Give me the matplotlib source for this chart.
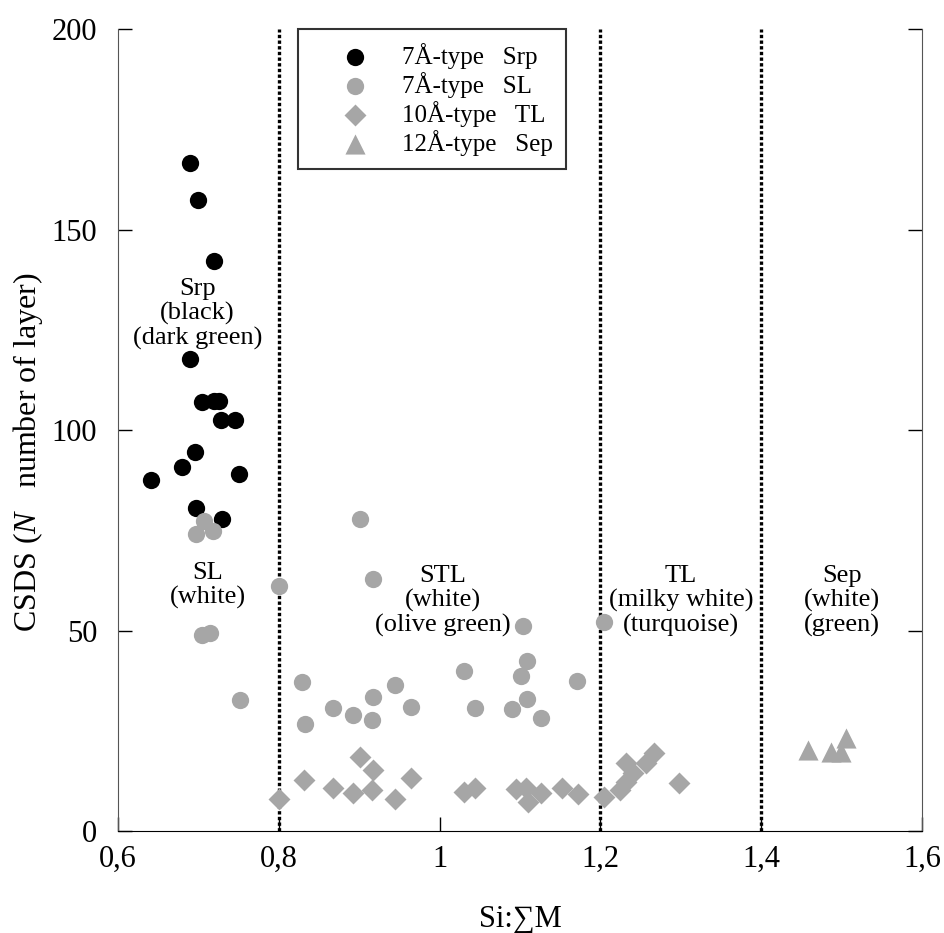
import numpy as np
import matplotlib
matplotlib.use("Agg")
import matplotlib.pyplot as plt

plt.rcParams['font.family'] = ['Liberation Serif', 'DejaVu Serif']
plt.rcParams['mathtext.fontset'] = 'custom'
plt.rcParams['mathtext.rm'] = 'Liberation Serif'
plt.rcParams['mathtext.it'] = 'Liberation Serif:italic'

# 7A-type serpentine (black circles)
srp_x = [0.689, 0.699, 0.719, 0.689, 0.704, 0.720, 0.726, 0.728, 0.745,
         0.696, 0.679, 0.641, 0.751, 0.697, 0.729]
srp_y = [166.5, 157.3, 142.1, 117.6, 106.9, 107.2, 107.2, 102.4, 102.4,
         94.5, 90.8, 87.5, 89.1, 80.5, 77.9]

# 7A-type SL (grey circles)
sl_x = [0.707, 0.697, 0.718, 0.901, 0.800, 0.917, 1.104, 1.205, 0.704, 0.714,
        1.109, 1.030, 1.101, 1.171, 0.829, 0.944, 0.752, 0.917, 1.109, 0.868,
        0.965, 1.044, 1.090, 0.892, 0.916, 1.126, 0.832]
sl_y = [77.4, 74.0, 74.8, 77.9, 61.0, 62.9, 51.2, 52.2, 48.8, 49.3,
        42.3, 39.9, 38.7, 37.3, 37.1, 36.3, 32.6, 33.4, 33.0, 30.8,
        30.9, 30.7, 30.4, 29.0, 27.7, 28.3, 26.6]

# 10A-type TL (grey diamonds)
tl_x = [0.901, 0.917, 0.831, 0.964, 0.868, 0.916, 0.892, 0.944, 0.800, 1.030,
        1.044, 1.095, 1.108, 1.110, 1.126, 1.152, 1.172, 1.205, 1.224, 1.232,
        1.240, 1.232, 1.257, 1.267, 1.298]
tl_y = [18.5, 15.2, 12.7, 13.1, 10.8, 10.2, 9.4, 8.1, 7.9, 9.8,
        10.8, 10.6, 10.8, 7.3, 9.4, 10.8, 9.2, 8.6, 10.2, 12.3,
        14.5, 16.9, 16.9, 19.4, 11.9]

# 12A-type Sep (grey triangles)
sep_x = [1.458, 1.487, 1.499, 1.505]
sep_y = [20.2, 19.8, 19.8, 23.1]

boundaries = [0.8, 1.2, 1.4]
xticks = [0.6, 0.8, 1.0, 1.2, 1.4, 1.6]
xticklabels = ['0,6', '0,8', '1', '1,2', '1,4', '1,6']
yticks = [0, 50, 100, 150, 200]

field_labels = ["Srp\n(black)\n(dark green)", "SL\n(white)",
                "STL\n(white)\n(olive green)", "TL\n(milky white)\n(turquoise)",
                "Sep\n(white)\n(green)"]
field_x = [0.699, 0.712, 1.004, 1.300, 1.500]
field_y = [129, 61.2, 57.4, 57.4, 57.4]

grey = '#a6a6a6'

fig = plt.figure(figsize=(9.44, 9.33), dpi=100)
ax = fig.add_axes([0.125, 0.1093, 0.8517, 0.8596])

for b in boundaries:
    ax.axvline(b, color='black', linestyle=(0, (1.0, 0.7)), linewidth=2.4, zorder=1)

ax.scatter(srp_x, srp_y, s=155, c='black', marker='o', linewidths=0,
           label='7Å-type   Srp', zorder=3)
ax.scatter(sl_x, sl_y, s=155, c=grey, marker='o', linewidths=0,
           label='7Å-type   SL', zorder=3)
ax.scatter(tl_x, tl_y, s=125, c=grey, marker='D', linewidths=0,
           label='10Å-type   TL', zorder=3)
ax.scatter(sep_x, sep_y, s=210, c=grey, marker='^', linewidths=0,
           label='12Å-type   Sep', zorder=3)

for t, x, y in zip(field_labels, field_x, field_y):
    ax.text(x, y, t, ha='center', va='center', fontsize=19, linespacing=1.1,
            zorder=2)

ax.set_xlim(0.6, 1.6)
ax.set_ylim(0, 200)
ax.set_xticks(xticks)
ax.set_xticklabels(xticklabels)
ax.set_yticks(yticks)
ax.tick_params(axis='both', direction='in', labelsize=22, length=10, width=1)
ax.tick_params(axis='y', right=True, pad=15)
ax.tick_params(axis='x', pad=10)

ax.spines['top'].set_visible(False)
ax.spines['left'].set_color('#555555')
ax.spines['right'].set_color('#555555')
ax.spines['bottom'].set_color('black')

ax.set_xlabel('Si:∑M', fontsize=22, labelpad=22)
ax.set_ylabel(r'CSDS ($\mathit{N}$   number of layer)', fontsize=23)
ax.yaxis.set_label_coords(-0.091, 0.473)

leg = ax.legend(loc='upper left', bbox_to_anchor=(0.224, 1.0), borderaxespad=0,
                fontsize=18, frameon=True, fancybox=False, edgecolor='black',
                handletextpad=0.15, labelspacing=0.12, borderpad=0.55,
                handlelength=3.45, scatterpoints=1)
leg.get_frame().set_linewidth(1.5)

fig.savefig('out.png', dpi=100)
